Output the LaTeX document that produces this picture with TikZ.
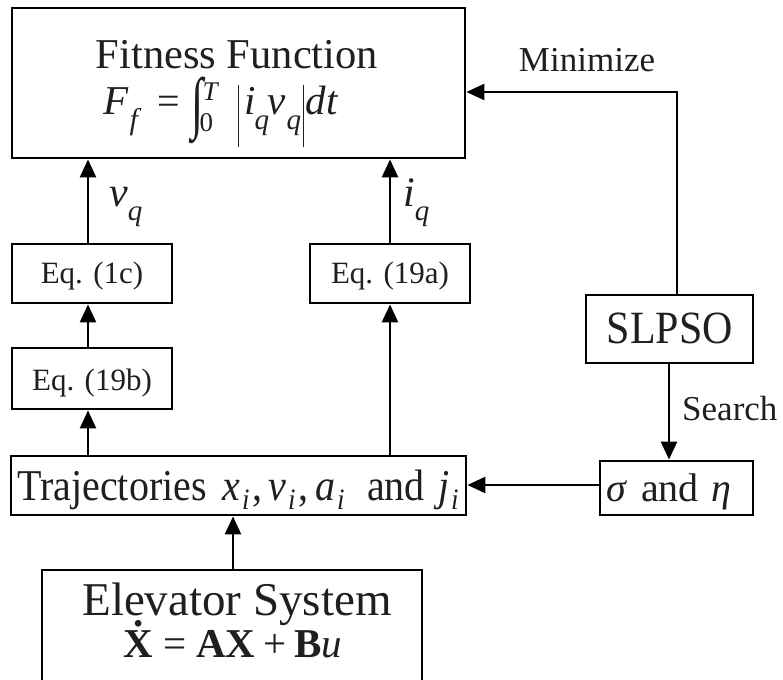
\RequirePackage{fix-cm}
\documentclass[tikz,border=0pt]{standalone}
\usepackage{graphicx}
\usepackage{fontspec}
\setmainfont{Liberation Serif}
\usetikzlibrary{arrows.meta}
\newcommand\fs[1]{\fontsize{#1}{#1}\selectfont}
% piece placed at an absolute offset from the start of the line
\newcommand\at[2]{\rlap{\hspace{#1pt}#2}}
% lowered subscript: size, drop, text
\newcommand\lsub[3]{\raisebox{-#2pt}{\fs{#1}\itshape #3}}
\newcommand\vbarr{\rule[-32pt]{1.5pt}{62pt}}
\newcommand\dotX{\makebox[0pt][l]{\makebox[0.722em][c]{\raisebox{0.74em}{\textbf{.}}}}\textbf{X}}
\begin{document}
\begin{tikzpicture}[x=1pt,y=-1pt,
  box/.style={draw=black, line width=2.8pt, inner sep=0pt},
  arr/.style={draw=black, line width=2.5pt, -{Triangle[length=18pt,width=16pt]}},
  txt/.style={anchor=base, inner sep=0pt, text=black!88}]
\useasboundingbox (0,0) rectangle (783,679);

% boxes
\node[box, minimum width=453, minimum height=150] (fit) at (238.5,83) {};
\node[box, minimum width=160, minimum height=59] (eqc) at (92,273.5) {};
\node[box, minimum width=160, minimum height=61] (eqb) at (92,378.5) {};
\node[box, minimum width=160, minimum height=59] (eqa) at (390,273.5) {};
\node[box, minimum width=167, minimum height=68] (slpso) at (669.5,329) {};
\node[box, minimum width=153, minimum height=54] (sig) at (676.5,488) {};
\node[box, minimum width=455, minimum height=59] (traj) at (238.5,485.5) {};
\node[box, minimum width=380, minimum height=160] (elev) at (232,650) {};

% texts
\node[txt] (fittitle) at (237,69) {\fs{42.5}Fitness Function};
\node[txt, anchor=base west] (fitform) at (103,115) {%
  \at{0}{\fs{41}\itshape F}%
  \at{26}{\lsub{30}{15}{f}}%
  \at{54}{\fs{40}=}%
  \at{88}{\raisebox{-11pt}{\scalebox{1.1}[1.7]{\fs{40}∫}}}%
  \at{99}{\raisebox{14pt}{\fs{27}\itshape T}}%
  \at{96}{\raisebox{-17pt}{\fs{27}0}}%
  \at{134}{\vbarr}%
  \at{141}{\fs{41}\itshape i}%
  \at{151}{\lsub{29}{15}{q}}%
  \at{164}{\fs{41}\itshape v}%
  \at{183}{\lsub{29}{15}{q}}%
  \at{199}{\vbarr}%
  \at{202}{\fs{41}\itshape dt}%
  \hspace{240pt}};
\node[txt] (mini) at (587,72) {\fs{35}Minimize};
\node[txt] (eqctxt) at (92,283) {\fs{31}Eq. (1c)};
\node[txt] (eqbtxt) at (92,390) {\fs{31}Eq. (19b)};
\node[txt] (eqatxt) at (390,283) {\fs{31}Eq. (19a)};
\node[txt, anchor=base west] (vq) at (109,206) {\fs{42}\textit{v}\lsub{29}{14}{q}};
\node[txt, anchor=base west] (iq) at (403,206) {\fs{42}\textit{i}\lsub{29}{14}{q}};
\node[txt] (slpsotxt) at (670,343) {\scalebox{1}[1.1]{\fs{42}SLPSO}};
\node[txt, anchor=base west] (search) at (682,420) {\fs{35}Search};
\node[txt, anchor=base west] (sigtxt) at (606,501) {\fs{40}\textit{σ}\hspace{14pt}and\hspace{13pt}\textit{η}};
\node[txt, anchor=base west] (trajtxt) at (17,500) {\scalebox{1}[1.1]{\fs{40}%
  \at{0}{Trajectories}%
  \at{205}{\itshape x}%
  \at{225}{\lsub{27}{9}{i}}%
  \at{235}{,}%
  \at{251}{\itshape v}%
  \at{271}{\lsub{27}{9}{i}}%
  \at{281}{,}%
  \at{298}{\itshape a}%
  \at{320}{\lsub{27}{9}{i}}%
  \at{350}{and}%
  \at{421}{\itshape j}%
  \at{434}{\lsub{27}{9}{i}}%
  \hspace{444pt}}};
\node[txt] (elevtitle) at (237,615) {\fs{47}Elevator System};
\node[txt] (elevform) at (233,657) {\fs{41}\dotX\hspace{10pt}=\hspace{10pt}\textbf{AX}\hspace{8pt}+\hspace{8pt}\textbf{B}\textit{u}};

% connectors
\coordinate (xl) at (88,0);
\coordinate (xr) at (390,0);
\coordinate (xs) at (677,0);
\coordinate (xd) at (669,0);
\coordinate (xe) at (233,0);
\coordinate (ym) at (0,92);
\coordinate (yh) at (0,485);
\coordinate (corner) at (677,92);

\draw[arr] (eqc.north -| xl) -- (fit.south -| xl);
\draw[arr] (eqb.north -| xl) -- (eqc.south -| xl);
\draw[arr] (traj.north -| xl) -- (eqb.south -| xl);
\draw[arr] (traj.north -| xr) -- (eqa.south -| xr);
\draw[arr] (eqa.north -| xr) -- (fit.south -| xr);
\draw[arr] (slpso.north -| xs) -- (corner) -- (fit.east |- ym);
\draw[arr] (slpso.south -| xd) -- (sig.north -| xd);
\draw[arr] (sig.west |- yh) -- (traj.east |- yh);
\draw[arr] (elev.north -| xe) -- (traj.south -| xe);
\end{tikzpicture}
\end{document}
